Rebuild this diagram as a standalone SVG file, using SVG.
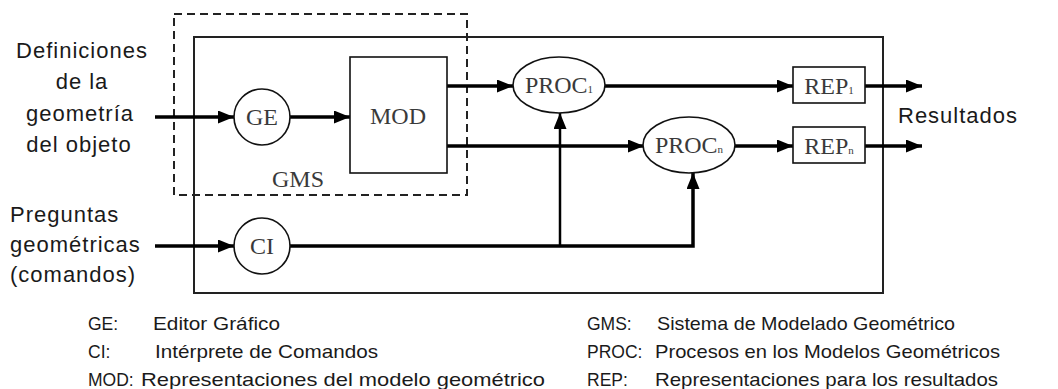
<svg xmlns="http://www.w3.org/2000/svg" width="1058" height="389" viewBox="0 0 1058 389">
<style>
.sans{font-family:"Liberation Sans",Arial,sans-serif;fill:#1a1a1a}
.big{font-size:22px;letter-spacing:1px}
.leg{font-size:19px}
.lab{font-size:17.5px}
.serif{font-family:"Liberation Serif","Times New Roman",serif;font-size:24px;fill:#3a3a3a}
.sub{font-size:11px}
.node{fill:#fff;stroke:#111;stroke-width:1.6}
.wire{fill:none;stroke:#000;stroke-width:3.5}
.thin{fill:none;stroke:#000;stroke-width:2.5}
</style>
<defs>
<marker id="ah" markerWidth="16" markerHeight="13" refX="16" refY="6.5" orient="auto" markerUnits="userSpaceOnUse">
<path d="M0,0 L16,6.5 L0,13 z" fill="#000"/>
</marker>
</defs>
<rect width="1058" height="389" fill="#fff"/>
<g id="system-box"><rect x="194" y="37" width="689" height="256" fill="none" stroke="#222" stroke-width="2"/></g>
<g id="gms-box"><rect x="174" y="14" width="293" height="181" fill="none" stroke="#222" stroke-width="2" stroke-dasharray="8,5"/>
<text class="serif" x="298" y="187" text-anchor="middle">GMS</text></g>
<g id="connectors">
<path class="wire" d="M155,117 H234" marker-end="url(#ah)"/>
<path class="wire" d="M290,117 H350" marker-end="url(#ah)"/>
<path class="wire" d="M447,86 H513" marker-end="url(#ah)"/>
<path class="wire" d="M447,146 H644" marker-end="url(#ah)"/>
<path class="wire" d="M605,86 H793" marker-end="url(#ah)"/>
<path class="wire" d="M735,146 H793" marker-end="url(#ah)"/>
<path class="wire" d="M865,86 H922" marker-end="url(#ah)"/>
<path class="wire" d="M865,146 H922" marker-end="url(#ah)"/>
<path class="wire" d="M155,246 H234" marker-end="url(#ah)"/>
<path class="wire" d="M290,246 H693 V173" marker-end="url(#ah)"/>
<path class="thin" d="M560,246 V113" marker-end="url(#ah)"/>
</g>
<g id="GE"><circle class="node" cx="262" cy="117" r="28"/><text class="serif" x="262" y="125" text-anchor="middle">GE</text></g>
<g id="MOD"><rect class="node" x="350" y="57" width="97" height="116"/><text class="serif" x="398" y="124" text-anchor="middle">MOD</text></g>
<g id="PROC1"><ellipse class="node" cx="559" cy="85" rx="46" ry="28"/><text class="serif" x="559" y="93" text-anchor="middle">PROC<tspan class="sub">1</tspan></text></g>
<g id="PROCn"><ellipse class="node" cx="689" cy="145" rx="46" ry="28"/><text class="serif" x="689" y="153" text-anchor="middle">PROC<tspan class="sub">n</tspan></text></g>
<g id="REP1"><rect class="node" x="793" y="67" width="72" height="36"/><text class="serif" x="829" y="94" text-anchor="middle">REP<tspan class="sub">1</tspan></text></g>
<g id="REPn"><rect class="node" x="793" y="127" width="72" height="36"/><text class="serif" x="829" y="154" text-anchor="middle">REP<tspan class="sub">n</tspan></text></g>
<g id="CI"><circle class="node" cx="262" cy="246" r="28"/><text class="serif" x="262" y="254" text-anchor="middle">CI</text></g>
<g id="input-def"><text class="sans big" text-anchor="middle">
<tspan x="82" y="58">Definiciones</tspan><tspan x="82" y="89">de la</tspan><tspan x="80" y="121">geometría</tspan><tspan x="79" y="152">del objeto</tspan></text></g>
<g id="input-q"><text class="sans big">
<tspan x="10" y="222">Preguntas</tspan><tspan x="10" y="252">geométricas</tspan><tspan x="10" y="282">(comandos)</tspan></text></g>
<g id="output"><text class="sans big" x="898" y="123">Resultados</text></g>
<g id="legend">
<text class="sans lab" x="88" y="330">GE:</text><text class="sans leg" x="153" y="330" textLength="127" lengthAdjust="spacingAndGlyphs">Editor Gráfico</text>
<text class="sans lab" x="88" y="358">CI:</text><text class="sans leg" x="155" y="358" textLength="223" lengthAdjust="spacingAndGlyphs">Intérprete de Comandos</text>
<text class="sans lab" x="88" y="386">MOD:</text><text class="sans leg" x="141" y="386" textLength="404" lengthAdjust="spacingAndGlyphs">Representaciones del modelo geométrico</text>
<text class="sans lab" x="587" y="330">GMS:</text><text class="sans leg" x="657" y="330" textLength="298" lengthAdjust="spacingAndGlyphs">Sistema de Modelado Geométrico</text>
<text class="sans lab" x="587" y="358">PROC:</text><text class="sans leg" x="655" y="358" textLength="345" lengthAdjust="spacingAndGlyphs">Procesos en los Modelos Geométricos</text>
<text class="sans lab" x="587" y="386">REP:</text><text class="sans leg" x="655" y="386" textLength="343" lengthAdjust="spacingAndGlyphs">Representaciones para los resultados</text>
</g>
</svg>
